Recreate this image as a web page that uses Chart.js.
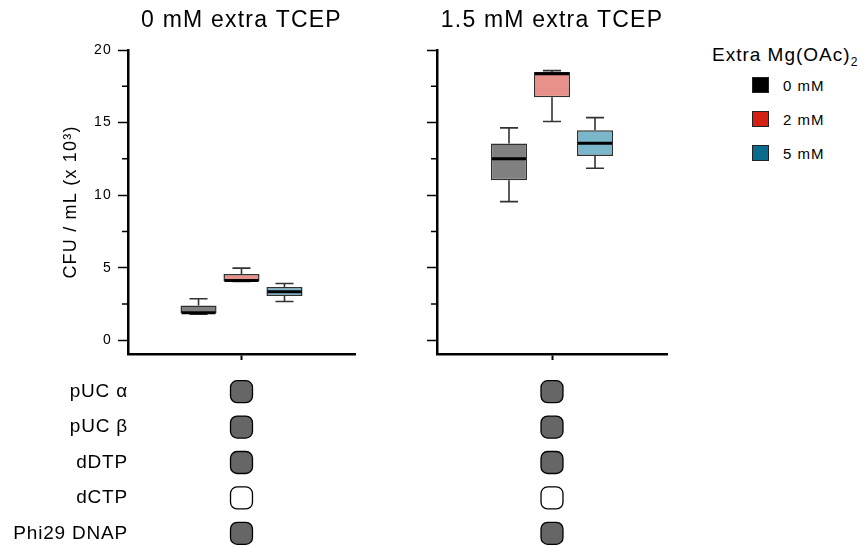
<!DOCTYPE html>
<html>
<head>
<meta charset="utf-8">
<script src="https://cdn.jsdelivr.net/npm/chart.js@4.4.0/dist/chart.umd.min.js"></script>
<style>
  body { margin: 0; width: 861px; height: 546px; overflow: hidden; background: #fff;
         font-family: "Liberation Sans", Arial, sans-serif; position: relative; }
  .box { position: absolute; }
  #legend { position: absolute; left: 712px; top: 42px; color: #000; }
  #legend .lt { font-size: 19px; letter-spacing: 1px; height: 26px; line-height: 26px; white-space: nowrap; }
  #legend .lt sub { font-size: 12px; letter-spacing: 0; }
  #legend .li { display: flex; align-items: center; margin-left: 40px; height: 34px; font-size: 15px; letter-spacing: 1px; }
  #legend .sw { width: 15px; height: 14px; border: 1px solid #222; margin-right: 14px; }
</style>
</head>
<body>
<div class="box" style="left:0;top:0;width:360px;height:366px"><canvas id="panel0"></canvas></div>
<div class="box" style="left:400px;top:0;width:272px;height:366px"><canvas id="panel1"></canvas></div>
<div class="box" style="left:0;top:374px;width:360px;height:177px"><canvas id="grid0"></canvas></div>
<div class="box" style="left:400px;top:374px;width:272px;height:177px"><canvas id="grid1"></canvas></div>
<div id="legend"></div>

<script>
// panels (extra TCEP) and series (extra Mg(OAc)2)
const conditions = ['0 mM extra TCEP', '1.5 mM extra TCEP'];
const mgLevels = ['0 mM', '2 mM', '5 mM'];

// box plot summaries, per panel, per Mg level (CFU / mL x 10^3)
const boxMin    = [[1.80, 4.05, 2.67], [9.55, 15.07, 11.85]];
const boxQ1     = [[1.86, 4.07, 3.05], [11.02, 16.75, 12.70]];
const boxMedian = [[1.90, 4.12, 3.34], [12.50, 18.37, 13.57]];
const boxQ3     = [[2.40, 4.56, 3.67], [13.55, 18.49, 14.47]];
const boxMax    = [[2.86, 4.97, 3.91], [14.63, 18.58, 15.34]];

const yTicks = [0, 5, 10, 15, 20];
const yMinorTicks = [2.5, 7.5, 12.5, 17.5];

// reaction components matrix
const components = ['pUC α', 'pUC β', 'dDTP', 'dCTP', 'Phi29 DNAP'];
const present = [[1, 1, 1, 0, 1], [1, 1, 1, 0, 1]];

const boxColors = ['#808080', '#E8908A', '#7BB7CB'];
const legendColors = ['#000000', '#D42012', '#0B6B8E'];

const FONT = '"Liberation Sans", Arial, sans-serif';

// canvas letter spacing, to get the wide text of the original
const spacingPlugin = {
  id: 'spacing',
  beforeDraw(chart, args, opts) {
    chart.ctx.letterSpacing = (opts.px || 0) + 'px';
  }
};

// whiskers, medians and minor ticks
const boxPlugin = {
  id: 'boxExtras',
  afterDatasetsDraw(chart, args, opts) {
    const p = opts.panel;
    const ctx = chart.ctx, y = chart.scales.y;
    chart.data.datasets.forEach((ds, i) => {
      const bar = chart.getDatasetMeta(i).data[0];
      const x = bar.x, w = bar.width;
      const yMin = y.getPixelForValue(boxMin[p][i]);
      const yQ1 = y.getPixelForValue(boxQ1[p][i]);
      const yMed = y.getPixelForValue(boxMedian[p][i]);
      const yQ3 = y.getPixelForValue(boxQ3[p][i]);
      const yMax = y.getPixelForValue(boxMax[p][i]);
      ctx.save();
      ctx.strokeStyle = '#333';
      ctx.lineWidth = 1.6;
      ctx.beginPath();
      ctx.moveTo(x, yQ3); ctx.lineTo(x, yMax);
      ctx.moveTo(x - w / 4, yMax); ctx.lineTo(x + w / 4, yMax);
      ctx.moveTo(x, yQ1); ctx.lineTo(x, yMin);
      ctx.moveTo(x - w / 4, yMin); ctx.lineTo(x + w / 4, yMin);
      ctx.stroke();
      ctx.strokeStyle = '#000';
      ctx.lineWidth = 3;
      ctx.beginPath();
      ctx.moveTo(x - w / 2 + 1, yMed); ctx.lineTo(x + w / 2 - 1, yMed);
      ctx.stroke();
      ctx.restore();
    });
  },
  afterDraw(chart) {
    const ctx = chart.ctx, y = chart.scales.y;
    ctx.save();
    ctx.strokeStyle = '#000';
    ctx.lineWidth = 1.5;
    ctx.beginPath();
    yMinorTicks.forEach(v => {
      const py = y.getPixelForValue(v);
      ctx.moveTo(y.right - 6, py);
      ctx.lineTo(y.right, py);
    });
    ctx.stroke();
    ctx.restore();
  }
};

const catPct = [0.568, 0.561];

function makePanel(id, p) {
  const axisWidth = p === 0 ? 128 : 37;
  new Chart(document.getElementById(id), {
    type: 'bar',
    data: {
      labels: [''],
      datasets: mgLevels.map((m, i) => ({
        label: m,
        data: [[boxQ1[p][i], boxQ3[p][i]]],
        backgroundColor: boxColors[i],
        borderColor: '#303030',
        borderWidth: 1.5,
        borderSkipped: false,
        categoryPercentage: catPct[p],
        barPercentage: 0.84
      }))
    },
    options: {
      responsive: true,
      maintainAspectRatio: false,
      animation: false,
      layout: { padding: { top: 0, right: 5, bottom: 0, left: 0 } },
      plugins: {
        legend: { display: false },
        tooltip: { enabled: false },
        spacing: { px: 1.2 },
        boxExtras: { panel: p }
      },
      scales: {
        x: {
          type: 'category',
          offset: true,
          afterFit: s => { s.height = 12; },
          border: { color: '#000', width: 2.5 },
          grid: { offset: false, drawOnChartArea: false, color: '#000', tickLength: 6, tickWidth: 2 },
          ticks: { display: false }
        },
        top: {
          type: 'category',
          position: 'top',
          afterFit: s => { s.height = 50; },
          border: { display: false },
          grid: { display: false },
          ticks: { display: false },
          title: {
            display: true,
            text: conditions[p],
            color: '#000',
            font: { family: FONT, size: 23 },
            padding: { top: 7, bottom: 0 }
          }
        },
        y: {
          min: -0.95,
          max: 20,
          afterBuildTicks: s => { s.ticks = yTicks.map(v => ({ value: v })); },
          afterFit: s => { s.width = axisWidth; s.paddingTop = 0; s.paddingBottom = 0; },
          border: { color: '#000', width: 2.5 },
          grid: { drawOnChartArea: false, color: '#000', tickLength: 10, tickWidth: 1.5 },
          ticks: { display: p === 0, padding: 6, color: '#000', font: { family: FONT, size: 14 } },
          title: {
            display: p === 0,
            text: 'CFU / mL (x 10³)',
            color: '#000',
            font: { family: FONT, size: 18 },
            padding: { top: 60, bottom: 0 }
          }
        }
      }
    },
    plugins: [spacingPlugin, boxPlugin]
  });
}

function makeGrid(id, p) {
  const axisWidth = p === 0 ? 128 : 37;
  new Chart(document.getElementById(id), {
    type: 'scatter',
    data: {
      datasets: [{
        data: components.map(c => ({ x: conditions[p], y: c })),
        pointStyle: 'rectRounded',
        radius: 12.8,
        hoverRadius: 12.8,
        backgroundColor: present[p].map(v => v ? '#666666' : '#ffffff'),
        borderColor: '#000',
        borderWidth: 1.3
      }]
    },
    options: {
      responsive: true,
      maintainAspectRatio: false,
      animation: false,
      layout: { autoPadding: false, padding: { top: 0, right: 5, bottom: 0, left: 0 } },
      plugins: {
        legend: { display: false },
        tooltip: { enabled: false },
        spacing: { px: 0.8 }
      },
      scales: {
        x: { type: 'category', labels: [conditions[p]], offset: true, display: false },
        y: {
          type: 'category',
          labels: components,
          offset: true,
          afterFit: s => { s.width = axisWidth; s.paddingTop = 0; s.paddingBottom = 0; },
          border: { display: false },
          grid: { display: false, drawTicks: false },
          ticks: { display: p === 0, padding: 0, color: '#000', font: { family: FONT, size: 19 } }
        }
      }
    },
    plugins: [spacingPlugin]
  });
}

makePanel('panel0', 0);
makePanel('panel1', 1);
makeGrid('grid0', 0);
makeGrid('grid1', 1);

// legend
document.getElementById('legend').innerHTML =
  '<div class="lt">Extra Mg(OAc)<sub>2</sub></div>' +
  mgLevels.map((m, i) =>
    '<div class="li"><span class="sw" style="background:' + legendColors[i] + '"></span>' + m + '</div>'
  ).join('');
</script>
</body>
</html>
